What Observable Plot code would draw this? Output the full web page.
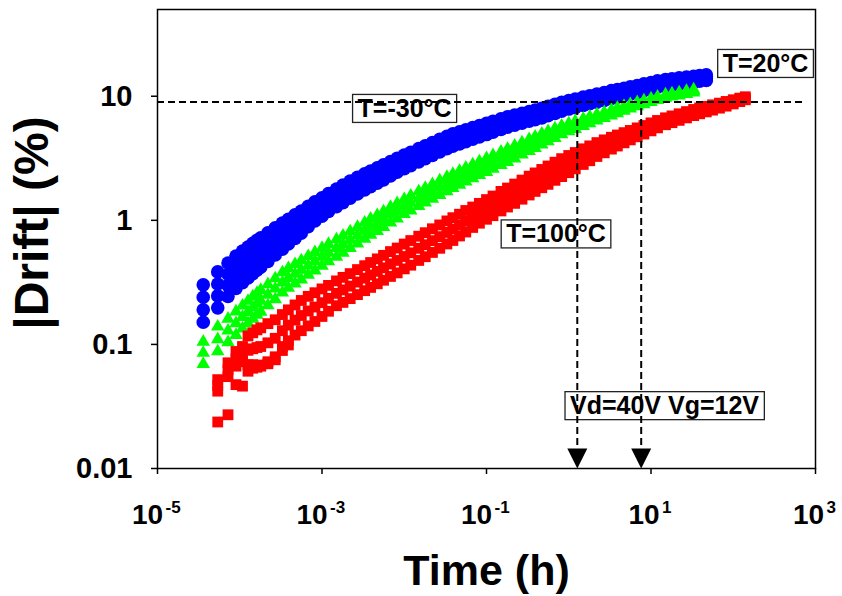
<!DOCTYPE html>
<html>
<head>
<meta charset="utf-8">
<script src="https://cdn.jsdelivr.net/npm/d3@7"></script>
<script src="https://cdn.jsdelivr.net/npm/@observablehq/plot@0.6"></script>
<style>
  html, body { margin: 0; padding: 0; background: white; }
</style>
</head>
<body>
<script>
// Sampling times (h)
const hours = [3.6e-5, 5.4e-5, 7.2e-5, 9.0e-5, 1.08e-4, 1.26e-4, 1.44e-4, 1.62e-4, 1.8e-4,
  2.2e-4, 2.7e-4, 3.3e-4, 3.9e-4, 4.7e-4, 5.6e-4, 6.8e-4, 8.2e-4,
  1e-3, 1.2e-3, 1.5e-3, 1.8e-3, 2.2e-3, 2.7e-3, 3.3e-3, 3.9e-3, 4.7e-3, 5.6e-3, 6.8e-3, 8.2e-3,
  0.01, 0.012, 0.015, 0.018, 0.022, 0.027, 0.033, 0.039, 0.047, 0.056, 0.068, 0.082,
  0.1, 0.12, 0.15, 0.18, 0.22, 0.27, 0.33, 0.39, 0.47, 0.56, 0.68, 0.82,
  1, 1.2, 1.5, 1.8, 2.2, 2.7, 3.3, 3.9, 4.7, 5.6, 6.8, 8.2,
  10, 12, 15, 18, 22, 27, 33, 39, 47, 56, 68, 82, 100, 120, 140];

// Blue circles (|Drift| %)
const blue1 = [.302,.384,.453,.515,.565,.610,.652,.690,.724,.794, .871,.951,1.02,1.107,1.19,1.30,1.41,1.52,1.64,1.79,
  1.92,2.07,2.22,2.37,2.50,2.65,2.80,2.98,3.16,3.36, 3.54,3.78,3.99,4.23,4.49,4.76,4.97,5.17,5.36,5.58,
  5.81,6.05,6.29,6.58,6.84,7.06,7.30,7.54,7.73,7.98, 8.28,8.61,8.93,9.25,9.51,9.84,10.1,10.4,10.7,11.1,
  11.3,11.6,11.9,12.2,12.6,12.9,13.3,13.6,13.8,14.1, 14.3,14.5,14.7,14.9];
const blue2 = [.240,.307,.368,.422,.464,.503,.540,.574,.604,.665, .736,.809,.875,.956,1.04,1.145,1.25,1.36,1.47,1.61,
  1.72,1.86,2.00,2.14,2.27,2.41,2.55,2.72,2.90,3.09, 3.26,3.49,3.68,3.91,4.15,4.41,4.61,4.80,4.98,5.20,
  5.41,5.64,5.88,6.16,6.42,6.62,6.86,7.10,7.28,7.53, 7.82,8.14,8.45,8.77,9.02,9.34,9.61,9.89,10.2,10.6,
  10.8,11.1,11.4,11.7,12.1,12.4,12.8,13.1,13.3,13.6, 13.8,14.0,14.2,14.4];
const blue3 = [.190,.246,.299,.345,.382,.415,.448,.478,.504,.558, .622,.689,.751,.826,.903,1.01,1.11,1.21,1.31,1.44,
  1.55,1.68,1.81,1.94,2.06,2.19,2.33,2.49,2.66,2.84, 3.00,3.21,3.40,3.61,3.84,4.08,4.27,4.45,4.63,4.84,
  5.05,5.27,5.50,5.77,6.02,6.21,6.45,6.68,6.86,7.10, 7.38,7.69,7.99,8.31,8.55,8.86,9.14,9.41,9.70,10.1,
  10.3,10.6,10.9,11.2,11.6,11.9,12.3,12.5,12.7,13.0, 13.2,13.4,13.7,13.9];
const blue4 = [.151,.197,.243,.283,.314,.343,.371,.397,.420,.467, .526,.586,.644,.714,.786,.889,.987,1.08,1.18,1.29,
  1.39,1.51,1.63,1.76,1.87,1.99,2.12,2.28,2.44,2.61, 2.76,2.96,3.14,3.34,3.55,3.78,3.96,4.13,4.31,4.50,
  4.70,4.91,5.14,5.40,5.64,5.83,6.06,6.28,6.46,6.69, 6.97,7.27,7.56,7.88,8.10,8.41,8.69,8.95,9.23,9.61,
  9.81,10.1,10.4,10.7,11.1,11.4,11.8,12.0,12.2,12.5, 12.7,12.9,13.2,13.4];

// Green triangles
const green1 = [.105,.139,.161,.184,.205,.224,.243,.259,.274,.305, .340,.380,.411,.443,.475,.514,.553,.598,.643,.701,
  .752,.813,.881,.957,1.03,1.10,1.18,1.28,1.37,1.48, 1.58,1.71,1.82,1.95,2.09,2.23,2.36,2.50,2.65,2.82,
  2.98,3.16,3.34,3.56,3.76,3.99,4.24,4.50,4.72,4.99, 5.22,5.50,5.77,6.04,6.27,6.58,6.84,7.13,7.43,7.74,
  8.02,8.32,8.63,8.93,9.23,9.57,9.89,10.3,10.5,10.7, 11.0,11.3];
const green2 = [.0854,.110,.129,.148,.166,.182,.198,.212,.224,.251, .281,.315,.342,.370,.398,.432,.467,.507,.547,.597,
  .642,.696,.756,.824,.887,.949,1.02,1.11,1.19,1.29, 1.38,1.49,1.59,1.70,1.83,1.95,2.07,2.20,2.33,2.48,
  2.63,2.78,2.95,3.15,3.33,3.55,3.79,4.03,4.25,4.51, 4.75,5.03,5.33,5.61,5.84,6.15,6.43,6.73,7.03,7.35,
  7.64,7.96,8.28,8.61,8.92,9.26,9.59,10.0,10.2,10.4, 10.7,11.0];
const green3 = [.0694,.0877,.104,.119,.134,.148,.161,.173,.183,.206, .231,.261,.285,.309,.333,.364,.394,.430,.466,.508,
  .548,.596,.649,.709,.764,.819,.880,.960,1.03,1.12, 1.20,1.30,1.39,1.49,1.60,1.71,1.82,1.93,2.05,2.18,
  2.31,2.45,2.60,2.78,2.95,3.15,3.38,3.61,3.82,4.08, 4.32,4.60,4.92,5.20,5.44,5.75,6.04,6.35,6.65,6.98,
  7.28,7.62,7.95,8.30,8.61,8.96,9.30,9.72,9.91,10.1, 10.4,10.7];

// Red squares
const red1 = [null,.052,.0711,.0877,.0962,.117,.124,.131,.136,.147, .158,.174,.190,.208,.226,.244,.261,.280,.299,.325,
  .347,.372,.401,.431,.457,.489,.522,.560,.598,.644, .687,.745,.795,.855,.918,.989,1.05,1.12,1.20,1.28,
  1.37,1.47,1.57,1.71,1.82,1.96,2.11,2.27,2.41,2.57, 2.74,2.94,3.14,3.33,3.52,3.77,3.98,4.23,4.45,4.67,
  4.87,5.09,5.30,5.56,5.81,6.10,6.38,6.70,6.94,7.22, 7.52,7.82,8.05,8.29,8.53,8.80,9.08,9.37,9.65,9.90];
const red2 = [null,.0467,.0625,.0765,.0835,.0896,.0922,.0944,.0962,.103, .112,.129,.143,.157,.171,.186,.200,.217,.235,.258,
  .275,.295,.318,.342,.363,.388,.414,.445,.475,.511, .547,.595,.636,.686,.739,.799,.850,.915,.983,1.06,
  1.14,1.22,1.31,1.43,1.53,1.64,1.77,1.91,2.03,2.17, 2.31,2.49,2.66,2.84,3.03,3.26,3.47,3.72,3.95,4.19,
  4.40,4.63,4.86,5.12,5.37,5.66,5.96,6.28,6.52,6.79, 7.09,7.39,7.62,7.88,8.12,8.40,8.69,9.01,9.35,9.63];
const red3 = [null,.042,.055,.0668,.0725,.0686,.0686,.068,.068,.0725, .0795,.0962,.107,.119,.129,.141,.153,.168,.185,.205,
  .218,.234,.252,.271,.288,.308,.329,.353,.377,.406, .435,.475,.509,.551,.595,.645,.688,.748,.805,.876,
  .948,1.02,1.09,1.19,1.28,1.37,1.48,1.60,1.71,1.83, 1.95,2.10,2.25,2.42,2.60,2.82,3.02,3.27,3.50,3.75,
  3.97,4.21,4.45,4.71,4.96,5.26,5.56,5.89,6.12,6.39, 6.69,6.98,7.22,7.48,7.73,8.02,8.32,8.67,9.05,9.36];
const red4 = [null,.0237,.0271,.0474,.0461,.0608,.0643,.0655,.0668,.0698,.0752,.0893,.099];

// Axis ticks and labels
const xTicksNeg = [1e-5, 1e-3, 1e-1];
const xTicksPos = [1e1, 1e3];
const xExpNeg = ["-5", "-3", "-1"];
const xExpPos = ["1", "3"];
const yTicks = [0.01, 0.1, 1, 10];

// Guide lines
const driftLevel = [9];
const crossTimes = [1.27, 7.6];

// Annotations
const notes = [
  {label: "T=-30°C", t: 0.0101, v: 7.9},
  {label: "T=20°C", t: 247, v: 18.2},
  {label: "T=100°C", t: 0.70, v: 0.77},
  {label: "Vd=40V Vg=12V", t: 14.6, v: 0.0318}
];

const run = (vals) => vals.map((v, i) => ({t: hours[i], v})).filter(d => d.v != null);

const arrowDown = {
  draw(ctx) {
    ctx.moveTo(-10, -20);
    ctx.lineTo(10, -20);
    ctx.lineTo(0, 0);
    ctx.closePath();
  }
};

const FONT = "'Liberation Sans', Arial, Helvetica, sans-serif";
const dash = {stroke: "black", strokeWidth: 2, strokeDasharray: "7,4"};

const svg = Plot.plot({
  width: 842,
  height: 596,
  marginLeft: 157,
  marginRight: 27,
  marginTop: 9,
  marginBottom: 128,
  style: {fontFamily: FONT, fontWeight: "bold", background: "white", color: "black"},
  x: {type: "log", domain: [1e-5, 1e3]},
  y: {type: "log", domain: [0.01, 50]},
  marks: [
    ...[blue1, blue2, blue3, blue4].map(b => Plot.dot(run(b), {x: "t", y: "v", r: 6.8, symbol: "circle", fill: "#0000ff"})),
    ...[green1, green2, green3].map(g => Plot.dot(run(g), {x: "t", y: "v", r: 5.0, symbol: "triangle", fill: "#00ff00"})),
    ...[red1, red2, red3, red4].map(r => Plot.dot(run(r), {x: "t", y: "v", r: 6.1, symbol: "square", fill: "#ff0000"})),
    Plot.frame({stroke: "black", strokeWidth: 1.5}),
    Plot.axisX({ticks: [...xTicksNeg, ...xTicksPos], tickSize: 6, strokeWidth: 1.5, tickFormat: () => "", label: null}),
    Plot.axisY({ticks: yTicks, tickSize: 6, tickPadding: 19, strokeWidth: 1.5, fontSize: 29, tickFormat: d => String(d), label: null}),
    Plot.text(notes, {x: "t", y: "v", text: "label", fontSize: 25, fill: "black"}),
    Plot.ruleY(driftLevel, {x1: 1e-5, x2: 700, ...dash}),
    Plot.ruleX(crossTimes, {y1: 0.0125, y2: driftLevel[0], ...dash}),
    Plot.dot(crossTimes, {x: d => d, frameAnchor: "bottom", symbol: arrowDown, r: 10, fill: "black"}),
    Plot.text(xTicksNeg, {x: d => d, text: () => "10", frameAnchor: "bottom", dy: 55, dx: -10, lineAnchor: "bottom", fontSize: 28}),
    Plot.text(xTicksNeg, {x: d => d, text: (d, i) => xExpNeg[i], frameAnchor: "bottom", dy: 44, dx: 8, textAnchor: "start", lineAnchor: "bottom", fontSize: 17}),
    Plot.text(xTicksPos, {x: d => d, text: () => "10", frameAnchor: "bottom", dy: 55, dx: -7, lineAnchor: "bottom", fontSize: 28}),
    Plot.text(xTicksPos, {x: d => d, text: (d, i) => xExpPos[i], frameAnchor: "bottom", dy: 44, dx: 11, textAnchor: "start", lineAnchor: "bottom", fontSize: 17}),
    Plot.text(["Time (h)"], {text: d => d, frameAnchor: "bottom", dy: 116, lineAnchor: "bottom", fontSize: 43}),
    Plot.text(["|Drift| (%)"], {text: d => d, frameAnchor: "left", dx: -110, dy: -16, rotate: -90, textAnchor: "middle", lineAnchor: "bottom", fontSize: 48})
  ]
});

document.body.append(svg);

// Boxes around annotation labels
const labelSet = new Set(notes.map(d => d.label));
const ns = "http://www.w3.org/2000/svg";
svg.querySelectorAll("text").forEach(el => {
  if (!labelSet.has(el.textContent)) return;
  const b = el.getBBox();
  const r = document.createElementNS(ns, "rect");
  r.setAttribute("x", b.x - 5);
  r.setAttribute("y", b.y + 0.5);
  r.setAttribute("width", b.width + 10);
  r.setAttribute("height", b.height);
  r.setAttribute("fill", "white");
  r.setAttribute("stroke", "#222");
  r.setAttribute("stroke-width", 1.3);
  const tr = el.getAttribute("transform");
  if (tr) r.setAttribute("transform", tr);
  el.parentNode.insertBefore(r, el);
});
</script>
</body>
</html>
